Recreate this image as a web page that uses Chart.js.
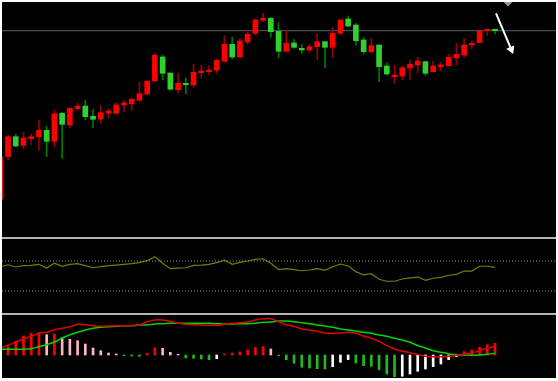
<!DOCTYPE html>
<html><head><meta charset="utf-8">
<script src="https://cdn.jsdelivr.net/npm/chart.js@4/dist/chart.umd.min.js"></script>
<style>
html,body{margin:0;padding:0;background:#fff;}
#wrap{position:relative;width:558px;height:381px;background:#fff;overflow:hidden;}
.pane{position:absolute;left:2px;width:554px;background:#000;}
.sep{position:absolute;left:2px;width:554px;height:2px;background:#b4b4b4;}
canvas{display:block;}
</style></head><body>
<div id="wrap">
<div class="pane" style="top:2px;height:235px"><canvas id="c1" width="554" height="235"></canvas></div>
<div class="sep" style="top:237px"></div>
<div class="pane" style="top:239px;height:74px"><canvas id="c2" width="554" height="74"></canvas></div>
<div class="sep" style="top:313px"></div>
<div class="pane" style="top:315px;height:63px"><canvas id="c3" width="554" height="63"></canvas></div>
</div>
<script>
// ---- price candles (arbitrary price units) ----
const opens  = [41,83.3,103.3,94.7,101.3,103,109.7,98.7,126.7,115,131.3,134,123.7,121,126.7,126.7,135,136.3,139.7,146,159,183,167,150.3,156.5,155,167.3,168.3,170,178.7,195.7,183,198,206.7,219.7,221.7,208.7,188.7,197,191.7,190,193.3,198.3,192.7,206.7,221,215,200,188.3,195,174,163.3,164,172,175,178.3,168.3,173.3,174.3,182,185,195,197.3,209.3,210.7];
const highs  = [85,105,105.7,107.7,106,120,114,130,127.7,132.7,136.7,140,130.7,134,131.3,137.7,139.3,142.3,158,159,186.7,185,167,166.7,162,175.7,175,174.3,180.7,204.3,202.7,201.7,210,221,226.7,222.7,217.3,209.3,200.7,195.7,195.7,206.7,198.3,212.3,221,224,216.7,202.7,201.7,195,177.3,174.7,174,180,182.7,179,179,177.7,186,196.7,201.3,199.3,209.3,210.7,210.7];
const lows   = [39,80,93.3,91,95,90,83.3,93.3,81.3,112,129,120,112.7,116.7,121.7,126,128.3,130,139,145,158.3,160,150,147.3,146,152.7,162,165,166.7,178,180.7,183,195.7,205,218.3,202.7,182,188.7,191.7,186.7,187.7,180.7,172.3,182.3,205.7,213.3,195,186,186.7,158.3,164.7,156.7,160,160.7,167.3,164.3,168.3,169,174.3,175,182.7,191,197.3,204.7,206];
const closes = [83,103.3,94,102,103.3,109.7,98.7,126.3,115.7,131.7,134,123.3,120.7,127.3,129,135,137,140.7,146.3,159,184.7,166.7,150.7,156.7,155.2,167.7,169,170,179.7,195.7,183,199,205.7,220,221.7,208.3,188.7,196.7,192.7,190,193.3,198.3,192.7,206.7,220,214,199.3,188.3,194.3,173.3,166,164.7,172.3,175.7,179,166.7,174,175,182.7,185.7,195,196.7,209.3,210.7,209.3];
const bidLevel = 209.3;
const arrowX = [64.13, 66.1];
const arrowY = [226.7, 190.6];
const markerX = [65.68];
const markerY = [239];
// ---- oscillator panel ----
const osc = [62,75,60,69,71,78,53,85,65,78,82,69,55,62,69,73,78,82,89,102,129,85,49,53,55,71,73,78,89,105,78,91,100,111,115,85,43,49,42,35,40,49,38,62,80,67,29,7,15,-22,-35,-35,-20,-13,-7,-29,-15,-9,5,11,33,33,65,65,58];
const oscLevels = [100,-100];
// ---- MACD panel ----
const macdHist = [4,8.3,13.7,19,21.7,22.7,20.3,21,17,15.7,14.3,11,7,4.3,2,1,-0.7,-1,-1.3,1.5,7.3,6.7,2.7,0.7,-3,-3.3,-4,-4.7,-3.7,1,2,3,5,7.5,8.5,6,-0.7,-4.7,-8.3,-12.3,-13,-13.7,-14,-11.7,-7.3,-4.7,-8,-10.7,-11.3,-14.7,-19,-21.7,-21.3,-19,-16.3,-14,-11.7,-9,-4.7,-1.7,3.3,5,7.7,10.3,11.7];
const macdLine = [6.7,9.7,13,16,18.7,21.7,22.7,25.3,26.7,28.3,30.7,30.3,29.3,28.7,29,29.3,29.3,29.3,30,33.3,35,35,33.7,31.7,30.7,30.3,30,29.7,29.7,30.7,31.7,32.3,33,35,36.3,36.3,33.5,30.3,28.7,26,25,23.7,22,21.7,22,22.7,21.7,19,16.7,13.7,9.3,6,3.7,2.3,0.5,-1.3,-1.7,-1.7,-1.3,-0.3,0.7,2,4.3,6.7,8.7];
const signalLine = [5.7,5.7,5.7,5.7,6.3,8.3,10.3,13,17,20.3,22.7,25,26.7,27.7,28.3,28.7,29.3,29.3,29.8,30.3,31,31.3,31.7,31.7,31.7,31.7,31.7,31.7,31.3,31,31,31.3,31.3,31.7,32.7,33,34,34,33.3,32.3,31.3,30,29,27.7,26,25,24,22.7,21.7,20,18.7,16.7,15,12.7,9.5,7,4.3,2.7,1.3,0.3,0,-0.3,0,0.7,1.7];

const X_MIN = 0.22, X_MAX = 71.89;
const xScale = {type:'linear', min:X_MIN, max:X_MAX, display:false, offset:false};
const base = {
  responsive:false, animation:false, events:[],
  layout:{padding:0, autoPadding:false},
  plugins:{legend:{display:false}, tooltip:{enabled:false}}
};
const pts = arr => arr.map((v,i)=>({x:i,y:v}));
const isUp = i => closes[i] >= opens[i];

new Chart(document.getElementById('c1'), {
  type:'bar',
  data:{datasets:[
    {type:'line', data:[{x:X_MIN,y:bidLevel},{x:X_MAX,y:bidLevel}], borderColor:'#56606b', borderWidth:1, pointRadius:0, order:5},
    {data:lows.map((l,i)=>({x:i,y:[l,highs[i]]})), barThickness:1, grouped:false, order:4,
     backgroundColor:c=>isUp(c.dataIndex)?'#9a0000':'#007a00'},
    {data:opens.map((o,i)=>({x:i,y:[o,closes[i]]})), barThickness:5, grouped:false, order:3, minBarLength:1.5,
     borderSkipped:false, borderWidth:0,
     backgroundColor:c=>isUp(c.dataIndex)?'#ff0000':'#2fd02f'},
    {type:'line', data:arrowX.map((x,i)=>({x:x,y:arrowY[i]})), borderColor:'#ffffff', borderWidth:2, pointRadius:0, order:2},
    {type:'scatter', data:[{x:arrowX[1],y:arrowY[1]}], pointStyle:'triangle', rotation:157, pointRadius:5,
     backgroundColor:'#ffffff', borderColor:'#ffffff', borderWidth:0, order:1},
    {type:'scatter', data:markerX.map((x,i)=>({x:x,y:markerY[i]})), pointStyle:'rectRot', pointRadius:5.5,
     backgroundColor:'#8796a8', borderWidth:0, clip:false, order:1}
  ]},
  options:{...base, scales:{x:xScale, y:{min:3,max:238,display:false}}}
});

new Chart(document.getElementById('c2'), {
  type:'line',
  data:{datasets:[
    ...oscLevels.map(l=>({data:[{x:X_MIN,y:l},{x:X_MAX,y:l}], borderColor:'#8a8a8a', borderWidth:1, borderDash:[1,2], pointRadius:0})),
    {data:pts(osc), borderColor:'#7c7c00', borderWidth:1.2, pointRadius:0, tension:0}
  ]},
  options:{...base, scales:{x:xScale, y:{min:-246.7,max:246.7,display:false}}}
});

function histColor(i){
  const v = macdHist[i], p = i>0 ? macdHist[i-1] : 0;
  if (v >= 0) return v >= p ? '#ff0000' : '#ffb6c1';
  return v <= p ? '#22b822' : '#ffffff';
}
new Chart(document.getElementById('c3'), {
  type:'bar',
  data:{datasets:[
    {data:pts(macdHist), barThickness:2, grouped:false, order:3, backgroundColor:c=>histColor(c.dataIndex)},
    {type:'line', data:pts(signalLine), borderColor:'#00d400', borderWidth:1.5, pointRadius:0, tension:0.3, order:2},
    {type:'line', data:pts(macdLine), borderColor:'#e00000', borderWidth:1.5, pointRadius:0, tension:0.3, order:1}
  ]},
  options:{...base, scales:{x:xScale, y:{min:-23,max:40,display:false}}}
});
</script>
</body></html>
